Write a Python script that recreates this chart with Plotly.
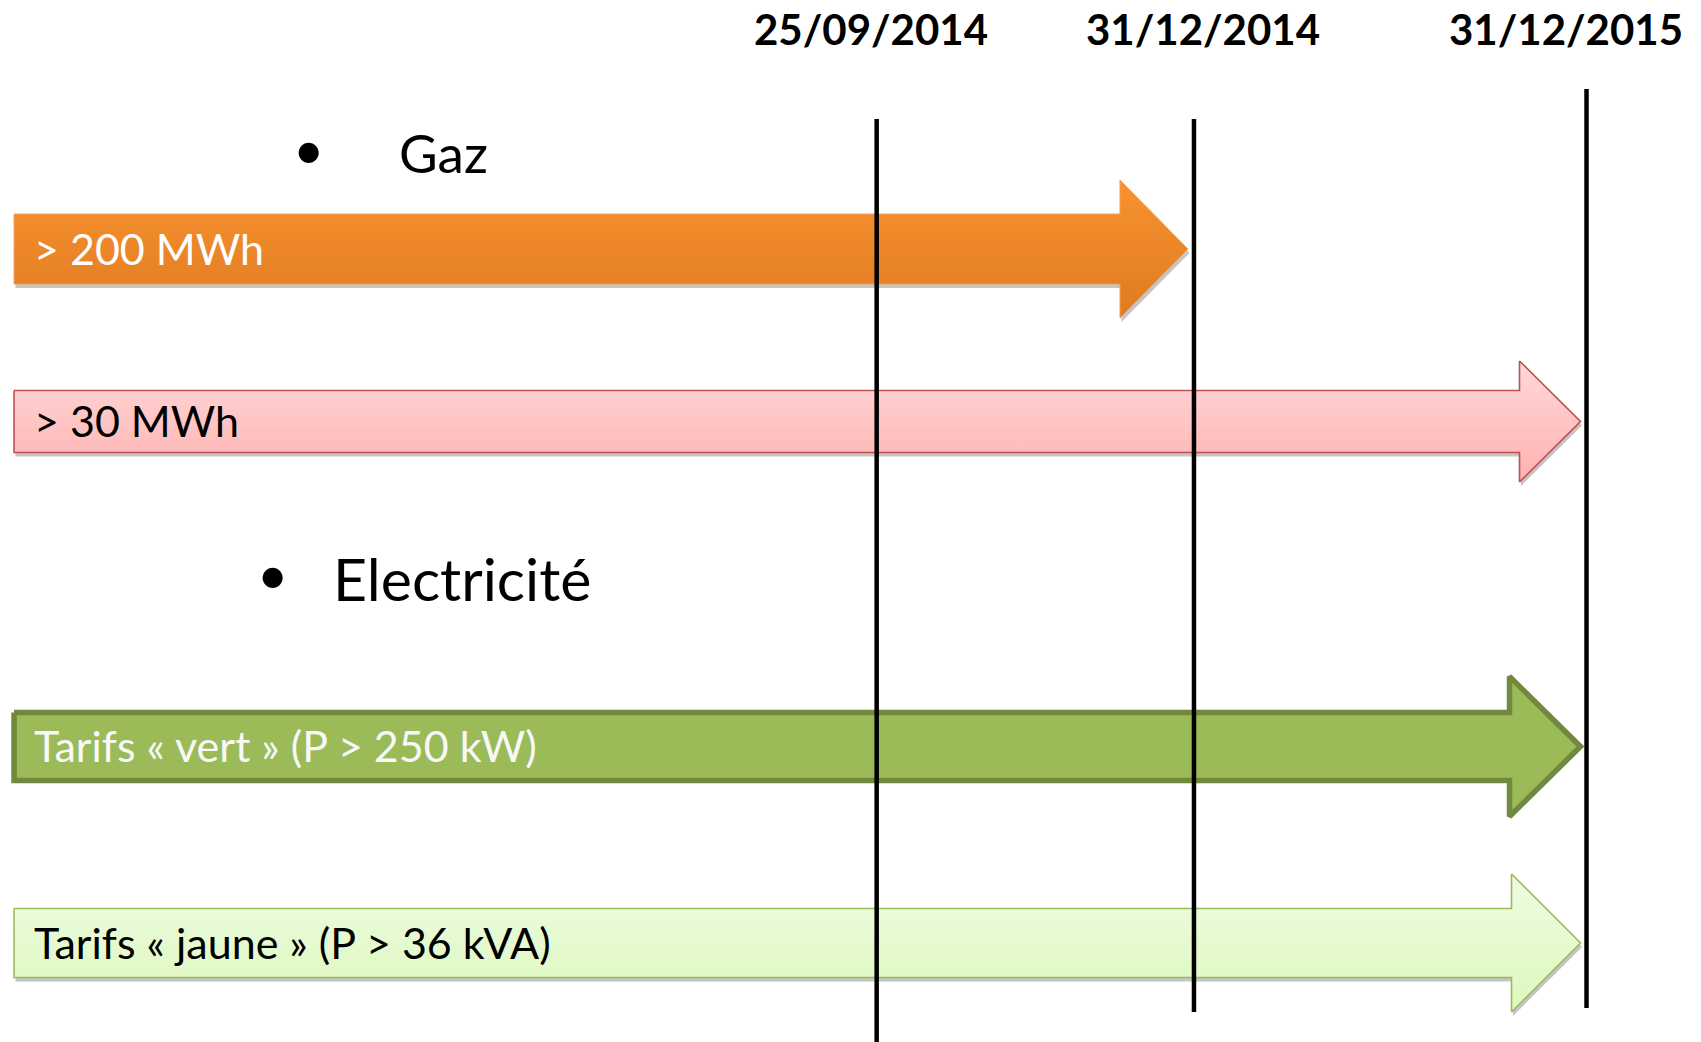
import plotly.graph_objects as go
import pandas as pd

# ---------------- data ----------------
milestones = ["2014-09-25", "2014-12-31", "2015-12-31"]
milestone_labels = ["25/09/2014", "31/12/2014", "31/12/2015"]
groups = ["Gaz", "Electricité"]
categories = [
    "> 200 MWh",
    "> 30 MWh",
    "Tarifs « vert » (P > 250 kW)",
    "Tarifs « jaune » (P > 36 kVA)",
]
category_group = ["Gaz", "Gaz", "Electricité", "Electricité"]
deadlines = ["2014-12-31", "2015-12-31", "2015-12-31", "2015-12-31"]

# ---------------- layout / style ----------------
W, H = 1701, 1042
X_RANGE = ["2013-12-31", "2016-02-04"]
BREAK_START = "2015-03-01"      # schematic compression of 2015
BREAK_DAYS = 245
ARROW_START = pd.Timestamp("2014-01-04 07:00")
FONT = "Lato"

shown_days = (pd.Timestamp(X_RANGE[1]) - pd.Timestamp(X_RANGE[0])).days - BREAK_DAYS
PX_PER_DAY = W / shown_days


def px(d):
    return pd.Timedelta(days=d / PX_PER_DAY)


row_style = [
    dict(cy=249, bh=35, hh=69, hl=68, top="#F8932F", bot="#E07A22", line="#F7A058", lw=1,
         txt="white", shadow=True),
    dict(cy=421.5, bh=31, hh=60.5, hl=61, top="#FFD9D9", bot="#FFB1B1", line="#C0504D", lw=1.6,
         txt="black", shadow=True),
    dict(cy=746.5, bh=34, hh=70, hl=71, top="#9BBB59", bot="#9BBB59", line="#71893F", lw=5.5,
         txt="#F8F8F8", shadow=False),
    dict(cy=943, bh=34.5, hh=69, hl=69, top="#EEFCE2", bot="#DCF8BD", line="#9BBB59", lw=1.6,
         txt="black", shadow=True),
]
TIP_GAP = 6  # px before the milestone line

line_top = [119, 119, 89]
line_bot = [1042, 1012, 1008]
label_shift = [-6, 9, -21]

header_pos = {"Gaz": dict(bx=308, tx=397, y=152, by=148, size=53),
              "Electricité": dict(bx=272, tx=331, y=578, by=573, size=59)}

fig = go.Figure()

for cat, dl, st in zip(categories, deadlines, row_style):
    end = pd.Timestamp(dl)
    tip = end - px(TIP_GAP)
    base = tip - px(st["hl"])
    x0 = ARROW_START
    cy, bh, hh = st["cy"], st["bh"], st["hh"]
    xs = [x0, base, base, tip, base, base, x0, x0]
    ys = [cy - bh, cy - bh, cy - hh, cy, cy + hh, cy + bh, cy + bh, cy - bh]
    if st["shadow"]:
        fig.add_trace(go.Scatter(
            x=[x + px(1.5) for x in xs], y=[y + 4 for y in ys],
            mode="lines", fill="toself", fillcolor="rgba(150,150,150,0.55)",
            line=dict(width=0), hoverinfo="skip", showlegend=False))
    fig.add_trace(go.Scatter(
        x=xs, y=ys, mode="lines", fill="toself",
        fillgradient=dict(type="vertical", start=cy - hh, stop=cy + hh,
                          colorscale=[[0, st["top"]], [1, st["bot"]]]),
        line=dict(color=st["line"], width=st["lw"]),
        name=cat, hoverinfo="name", showlegend=False))
    fig.add_annotation(x=x0, y=cy - 1, xref="x", yref="y", text=cat,
                       xanchor="left", yanchor="middle", xshift=18, showarrow=False,
                       font=dict(family=FONT, size=43, color=st["txt"]))

for g in groups:
    p = header_pos[g]
    fig.add_annotation(x=p["bx"] / W, y=p["by"], xref="paper", yref="y", text="•",
                       xanchor="center", yanchor="middle", showarrow=False,
                       font=dict(family=FONT, size=54, color="black"))
    fig.add_annotation(x=p["tx"] / W, y=p["y"], xref="paper", yref="y", text=g,
                       xanchor="left", yanchor="middle", showarrow=False,
                       font=dict(family=FONT, size=p["size"], color="black"))

for m, lab, t, b, sh in zip(milestones, milestone_labels, line_top, line_bot, label_shift):
    fig.add_shape(type="line", xref="x", yref="y", x0=m, x1=m, y0=t, y1=b,
                  line=dict(color="black", width=4.5))
    fig.add_annotation(x=m, y=29, xref="x", yref="y", text=f"<b>{lab}</b>",
                       xanchor="center", yanchor="middle", xshift=sh, showarrow=False,
                       font=dict(family=FONT, size=42, color="black"))

hidden = dict(showgrid=False, zeroline=False, showline=False, showticklabels=False,
              ticks="")
fig.update_layout(
    width=W, height=H,
    margin=dict(l=0, r=0, t=0, b=0),
    paper_bgcolor="white", plot_bgcolor="white",
    xaxis=dict(type="date", range=X_RANGE, visible=True,
               rangebreaks=[dict(values=[BREAK_START], dvalue=BREAK_DAYS * 86400000)],
               **hidden),
    yaxis=dict(range=[H, 0], visible=True, **hidden),
)

fig.write_html("out.html", post_script="document.body.style.margin='0';",
               config={"displayModeBar": False})
